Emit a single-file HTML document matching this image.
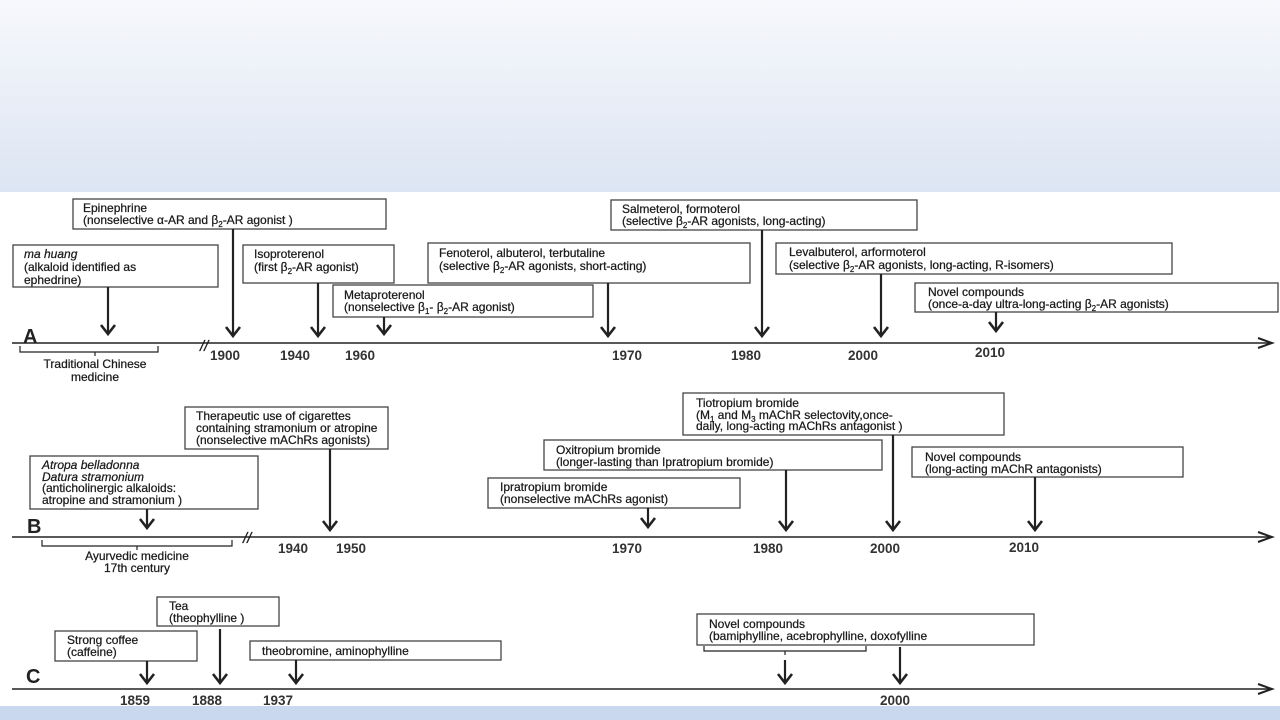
<!DOCTYPE html>
<html><head><meta charset="utf-8"><style>
html,body{margin:0;padding:0;width:1280px;height:720px;overflow:hidden;background:#fff}
svg{display:block}
text{font-family:"Liberation Sans",sans-serif;font-size:12px;fill:#1a1a1a;stroke:#1a1a1a;stroke-width:0.25}
.y{font-size:13.5px;font-weight:bold;fill:#333;stroke:none}
.L{font-size:20px;font-weight:bold;fill:#222;stroke:none}
rect.b{fill:#fff;stroke:#444;stroke-width:1.3}
line,polyline,path{stroke:#222;fill:none}
.ar line{stroke-width:2.2}
.ar polyline{stroke-width:2.6}
</style></head><body>
<svg width="1280" height="720" viewBox="0 0 1280 720" xmlns="http://www.w3.org/2000/svg">
<defs><linearGradient id="g" x1="0" y1="0" x2="0" y2="1"><stop offset="0" stop-color="#f7f8fc"/><stop offset="1" stop-color="#dce5f3"/></linearGradient></defs>
<rect x="0" y="0" width="1280" height="192" fill="url(#g)"/>
<rect x="0" y="706" width="1280" height="14" fill="#c9d7ef"/>

<!-- ===== A ===== -->
<line x1="12" y1="343" x2="1272" y2="343" stroke-width="1.6"/>
<polyline points="1258,338 1272,343 1258,348" stroke-width="2"/>
<text class="L" x="23" y="343">A</text>
<text x="200" y="351" style="font-size:15px;font-style:italic">//</text>
<path d="M20,346 V352 H158 V346 M95,352 V356" stroke-width="1.2"/>
<text x="95" y="368" text-anchor="middle">Traditional Chinese</text>
<text x="95" y="381" text-anchor="middle">medicine</text>
<text class="y" x="210" y="360">1900</text>
<text class="y" x="280" y="360">1940</text>
<text class="y" x="345" y="360">1960</text>
<text class="y" x="612" y="360">1970</text>
<text class="y" x="731" y="360">1980</text>
<text class="y" x="848" y="360">2000</text>
<text class="y" x="975" y="357">2010</text>

<rect class="b" x="73" y="199" width="313" height="30"/>
<text x="83" y="212">Epinephrine</text>
<text x="83" y="224">(nonselective α-AR and β<tspan font-size="8" dy="3">2</tspan><tspan dy="-3">-AR agonist )</tspan></text>
<g class="ar"><line x1="233" y1="229" x2="233" y2="336"/><polyline points="226,327 233,336 240,327"/></g>

<rect class="b" x="13" y="245" width="205" height="42"/>
<text x="24" y="258" font-style="italic">ma huang</text>
<text x="24" y="271">(alkaloid identified as</text>
<text x="24" y="284">ephedrine)</text>
<g class="ar"><line x1="108" y1="287" x2="108" y2="334"/><polyline points="101,325 108,334 115,325"/></g>

<rect class="b" x="243" y="245" width="151" height="38"/>
<text x="254" y="258">Isoproterenol</text>
<text x="254" y="271">(first β<tspan font-size="8" dy="3">2</tspan><tspan dy="-3">-AR agonist)</tspan></text>
<g class="ar"><line x1="318" y1="283" x2="318" y2="336"/><polyline points="311,327 318,336 325,327"/></g>

<rect class="b" x="333" y="285" width="260" height="32"/>
<text x="344" y="299">Metaproterenol</text>
<text x="344" y="311">(nonselective β<tspan font-size="8" dy="3">1</tspan><tspan dy="-3">- β</tspan><tspan font-size="8" dy="3">2</tspan><tspan dy="-3">-AR agonist)</tspan></text>
<g class="ar"><line x1="384" y1="317" x2="384" y2="334"/><polyline points="377,325 384,334 391,325"/></g>

<rect class="b" x="428" y="243" width="322" height="40"/>
<text x="439" y="257">Fenoterol, albuterol, terbutaline</text>
<text x="439" y="270">(selective β<tspan font-size="8" dy="3">2</tspan><tspan dy="-3">-AR agonists, short-acting)</tspan></text>
<g class="ar"><line x1="608" y1="283" x2="608" y2="336"/><polyline points="601,327 608,336 615,327"/></g>

<rect class="b" x="611" y="200" width="306" height="30"/>
<text x="622" y="213">Salmeterol, formoterol</text>
<text x="622" y="225">(selective β<tspan font-size="8" dy="3">2</tspan><tspan dy="-3">-AR agonists, long-acting)</tspan></text>
<g class="ar"><line x1="762" y1="230" x2="762" y2="336"/><polyline points="755,327 762,336 769,327"/></g>

<rect class="b" x="776" y="243" width="396" height="31"/>
<text x="789" y="256">Levalbuterol, arformoterol</text>
<text x="789" y="269">(selective β<tspan font-size="8" dy="3">2</tspan><tspan dy="-3">-AR agonists, long-acting, R-isomers)</tspan></text>
<g class="ar"><line x1="881" y1="274" x2="881" y2="336"/><polyline points="874,327 881,336 888,327"/></g>

<rect class="b" x="915" y="283" width="363" height="29"/>
<text x="928" y="296">Novel compounds</text>
<text x="928" y="308">(once-a-day ultra-long-acting β<tspan font-size="8" dy="3">2</tspan><tspan dy="-3">-AR agonists)</tspan></text>
<g class="ar"><line x1="996" y1="312" x2="996" y2="331"/><polyline points="989,322 996,331 1003,322"/></g>

<!-- ===== B ===== -->
<line x1="12" y1="537" x2="1272" y2="537" stroke-width="1.6"/>
<polyline points="1258,532 1272,537 1258,542" stroke-width="2"/>
<text class="L" x="27" y="533">B</text>
<text x="243" y="543" style="font-size:15px;font-style:italic">//</text>
<path d="M42,540 V546 H232 V540 M137,546 V550" stroke-width="1.2"/>
<text x="137" y="560" text-anchor="middle">Ayurvedic medicine</text>
<text x="137" y="572" text-anchor="middle">17th century</text>
<text class="y" x="278" y="553">1940</text>
<text class="y" x="336" y="553">1950</text>
<text class="y" x="612" y="553">1970</text>
<text class="y" x="753" y="553">1980</text>
<text class="y" x="870" y="553">2000</text>
<text class="y" x="1009" y="552">2010</text>

<rect class="b" x="185" y="407" width="203" height="42"/>
<text x="196" y="420">Therapeutic use of cigarettes</text>
<text x="196" y="432">containing stramonium or atropine</text>
<text x="196" y="444">(nonselective mAChRs agonists)</text>
<g class="ar"><line x1="330" y1="449" x2="330" y2="530"/><polyline points="323,521 330,530 337,521"/></g>

<rect class="b" x="30" y="456" width="228" height="53"/>
<text x="42" y="469" font-style="italic">Atropa belladonna</text>
<text x="42" y="481" font-style="italic">Datura stramonium</text>
<text x="42" y="492">(anticholinergic alkaloids:</text>
<text x="42" y="504">atropine and stramonium )</text>
<g class="ar"><line x1="147" y1="509" x2="147" y2="528"/><polyline points="140,519 147,528 154,519"/></g>

<rect class="b" x="683" y="393" width="321" height="42"/>
<text x="696" y="407">Tiotropium bromide</text>
<text x="696" y="419">(M<tspan font-size="8" dy="3">1</tspan><tspan dy="-3"> and M</tspan><tspan font-size="8" dy="3">3</tspan><tspan dy="-3"> mAChR  selectovity,once-</tspan></text>
<text x="696" y="430">daily, long-acting mAChRs antagonist )</text>
<g class="ar"><line x1="893" y1="435" x2="893" y2="530"/><polyline points="886,521 893,530 900,521"/></g>

<rect class="b" x="544" y="440" width="338" height="30"/>
<text x="556" y="454">Oxitropium bromide</text>
<text x="556" y="466">(longer-lasting  than Ipratropium bromide)</text>
<g class="ar"><line x1="786" y1="470" x2="786" y2="530"/><polyline points="779,521 786,530 793,521"/></g>

<rect class="b" x="488" y="478" width="252" height="30"/>
<text x="500" y="491">Ipratropium bromide</text>
<text x="500" y="503">(nonselective mAChRs agonist)</text>
<g class="ar"><line x1="648" y1="508" x2="648" y2="527"/><polyline points="641,518 648,527 655,518"/></g>

<rect class="b" x="912" y="447" width="271" height="30"/>
<text x="925" y="461">Novel compounds</text>
<text x="925" y="473">(long-acting mAChR antagonists)</text>
<g class="ar"><line x1="1035" y1="477" x2="1035" y2="530"/><polyline points="1028,521 1035,530 1042,521"/></g>

<!-- ===== C ===== -->
<line x1="12" y1="689" x2="1272" y2="689" stroke-width="1.6"/>
<polyline points="1258,684 1272,689 1258,694" stroke-width="2"/>
<text class="L" x="26" y="683">C</text>
<text class="y" x="120" y="705">1859</text>
<text class="y" x="192" y="705">1888</text>
<text class="y" x="263" y="705">1937</text>
<text class="y" x="880" y="705">2000</text>

<rect class="b" x="157" y="597" width="122" height="29"/>
<text x="169" y="610">Tea</text>
<text x="169" y="622">(theophylline )</text>
<g class="ar"><line x1="220" y1="629" x2="220" y2="683"/><polyline points="213,674 220,683 227,674"/></g>

<rect class="b" x="55" y="631" width="142" height="30"/>
<text x="67" y="644">Strong coffee</text>
<text x="67" y="656">(caffeine)</text>
<g class="ar"><line x1="147" y1="661" x2="147" y2="683"/><polyline points="140,674 147,683 154,674"/></g>

<rect class="b" x="250" y="641" width="251" height="19"/>
<text x="262" y="655">theobromine, aminophylline</text>
<g class="ar"><line x1="296" y1="660" x2="296" y2="683"/><polyline points="289,674 296,683 303,674"/></g>

<rect class="b" x="697" y="614" width="337" height="31"/>
<text x="709" y="628">Novel compounds</text>
<text x="709" y="640">(bamiphylline, acebrophylline, doxofylline</text>
<path d="M704,646 V651 H866 V646 M785,651 V655" stroke-width="1.2"/>
<g class="ar"><line x1="785" y1="660" x2="785" y2="683"/><polyline points="778,674 785,683 792,674"/></g>
<g class="ar"><line x1="900" y1="647" x2="900" y2="683"/><polyline points="893,674 900,683 907,674"/></g>
</svg>
</body></html>
